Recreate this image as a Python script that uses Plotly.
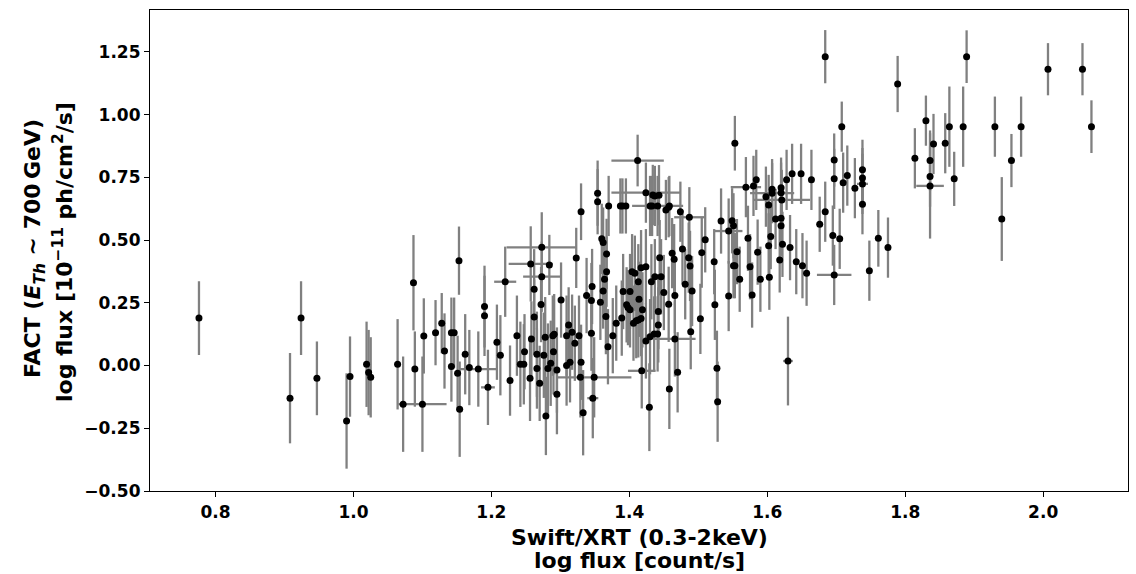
import plotly.graph_objects as go

# Swift/XRT log flux (x) and FACT log flux (y)
x_xrt = [
    0.776, 0.908, 0.924, 0.947, 0.990, 0.995, 1.019, 1.022, 1.025, 1.064,
    1.072, 1.087, 1.089, 1.100, 1.102, 1.119, 1.128, 1.132, 1.142, 1.146,
    1.142, 1.151, 1.153, 1.154, 1.162, 1.168, 1.181,
    1.190, 1.190, 1.195, 1.208, 1.213, 1.220, 1.227, 1.237, 1.242, 1.247,
    1.248, 1.256, 1.257, 1.258, 1.262, 1.262, 1.266, 1.266, 1.270, 1.272,
    1.273, 1.273, 1.276, 1.278, 1.279, 1.282, 1.284, 1.286, 1.289, 1.291,
    1.290, 1.295, 1.295, 1.301, 1.309, 1.309, 1.312, 1.314, 1.317, 1.321,
    1.323, 1.327, 1.329, 1.330, 1.330, 1.333, 1.338, 1.345, 1.345, 1.346,
    1.347, 1.349, 1.354, 1.354, 1.358, 1.360, 1.362, 1.362, 1.364, 1.366,
    1.367, 1.367, 1.369, 1.370, 1.376, 1.381, 1.387, 1.390, 1.395, 1.389,
    1.391, 1.396, 1.398, 1.401, 1.401, 1.404, 1.408, 1.406, 1.410, 1.413,
    1.417, 1.412, 1.413, 1.414, 1.417, 1.419, 1.424, 1.424, 1.424, 1.429,
    1.430, 1.433, 1.430, 1.432, 1.434, 1.436, 1.441, 1.437, 1.441, 1.442,
    1.442, 1.443, 1.444, 1.446, 1.450, 1.453, 1.457, 1.458, 1.457, 1.458,
    1.462, 1.465, 1.466, 1.466, 1.470, 1.474, 1.477, 1.481, 1.486, 1.487,
    1.488, 1.489, 1.491, 1.503, 1.505, 1.510, 1.523, 1.524, 1.527, 1.528,
    1.418, 1.437,
    1.533, 1.544, 1.544, 1.549, 1.551, 1.551, 1.553, 1.553, 1.556, 1.560,
    1.569, 1.572, 1.575, 1.578, 1.580, 1.584, 1.586, 1.590, 1.598, 1.602,
    1.602, 1.603, 1.605, 1.607, 1.607, 1.612, 1.618, 1.620, 1.620, 1.621,
    1.620, 1.620, 1.622, 1.628, 1.630, 1.633, 1.636, 1.642, 1.649, 1.651,
    1.657, 1.664, 1.676, 1.684, 1.684, 1.695, 1.697, 1.697, 1.697, 1.705,
    1.708, 1.710, 1.716, 1.727, 1.738, 1.738, 1.738, 1.738, 1.748, 1.761,
    1.775, 1.789, 1.814, 1.830, 1.836, 1.836, 1.836, 1.841, 1.858, 1.864,
    1.871, 1.884, 1.889, 1.930, 1.940, 1.954, 1.968, 2.007, 2.057, 2.070,
]

y_fact = [
    0.189, -0.130, 0.189, -0.051, -0.221, -0.044, 0.005, -0.028, -0.047, 0.005,
    -0.154, 0.330, -0.014, -0.154, 0.118, 0.131, 0.169, 0.058, 0.131, 0.131,
    -0.004, -0.031, 0.418, -0.174, 0.045, -0.008, -0.014,
    0.235, 0.198, -0.087, 0.093, 0.041, 0.334, -0.060, 0.119, 0.005, 0.005,
    0.055, -0.051, 0.405, 0.106, 0.304, 0.193, 0.045, -0.012, -0.071, 0.243,
    0.471, 0.354, 0.041, 0.113, -0.201, -0.012, 0.401, 0.009, 0.119, 0.125,
    0.055, -0.114, -0.018, 0.261, 0.119, 0.000, 0.162, 0.013, 0.133, 0.089,
    0.429, 0.119, -0.047, 0.013, 0.613, -0.188, 0.279, 0.129, 0.259, 0.315,
    -0.130, -0.047, 0.687, 0.653, 0.252, 0.505, 0.490, 0.297, 0.344, 0.195,
    0.445, 0.374, 0.075, 0.636, 0.119, 0.169, 0.636, 0.636, 0.636, 0.189,
    0.295, 0.242, 0.231, 0.222, 0.295, 0.374, 0.368, 0.169, 0.179, 0.182,
    0.187, 0.817, 0.334, 0.264, 0.390, 0.222, 0.689, 0.394, 0.098, -0.166,
    0.636, 0.636, 0.115, 0.334, 0.680, 0.126, 0.126, 0.354, 0.636, 0.215,
    0.162, 0.679, 0.430, 0.354, 0.291, 0.620, 0.631, 0.636, 0.244, -0.093,
    0.448, 0.424, 0.279, 0.106, -0.027, 0.613, 0.464, 0.324, 0.430, 0.591,
    0.397, 0.135, 0.297, 0.186, 0.450, 0.501, 0.414, 0.242, -0.011, -0.144,
    -0.021, 0.676,
    0.576, 0.536, 0.277, 0.577, 0.557, 0.398, 0.398, 0.886, 0.454, 0.344,
    0.711, 0.507, 0.394, 0.281, 0.716, 0.740, 0.452, 0.344, 0.673, 0.640,
    0.477, 0.352, 0.514, 0.703, 0.687, 0.584, 0.421, 0.709, 0.689, 0.660,
    0.587, 0.557, 0.483, 0.740, 0.018, 0.470, 0.764, 0.414, 0.764, 0.398,
    0.368, 0.740, 0.563, 1.231, 0.613, 0.518, 0.819, 0.744, 0.361, 0.505,
    0.952, 0.729, 0.757, 0.707, 0.780, 0.747, 0.724, 0.643, 0.378, 0.507,
    0.470, 1.122, 0.826, 0.976, 0.817, 0.753, 0.716, 0.883, 0.886, 0.952,
    0.744, 0.952, 1.231, 0.952, 0.584, 0.817, 0.952, 1.181, 1.181, 0.952,
]

y_err = [
    0.147, 0.180, 0.147, 0.147, 0.190, 0.160, 0.170, 0.170, 0.160, 0.180,
    0.190, 0.190, 0.150, 0.190, 0.150, 0.130, 0.120, 0.150, 0.140, 0.140,
    0.140, 0.150, 0.136, 0.190, 0.160, 0.150, 0.150,
    0.163, 0.160, 0.150, 0.150, 0.160, 0.140, 0.140, 0.160, 0.170, 0.160,
    0.150, 0.170, 0.150, 0.150, 0.160, 0.150, 0.170, 0.160, 0.150, 0.150,
    0.140, 0.140, 0.170, 0.160, 0.156, 0.180, 0.120, 0.170, 0.160, 0.160,
    0.170, 0.160, 0.170, 0.150, 0.160, 0.160, 0.150, 0.160, 0.150, 0.150,
    0.120, 0.160, 0.160, 0.150, 0.113, 0.170, 0.150, 0.150, 0.150, 0.150,
    0.160, 0.160, 0.130, 0.130, 0.150, 0.140, 0.140, 0.150, 0.150, 0.150,
    0.140, 0.140, 0.150, 0.120, 0.150, 0.150, 0.110, 0.110, 0.110, 0.150,
    0.150, 0.150, 0.150, 0.150, 0.150, 0.150, 0.150, 0.150, 0.150, 0.150,
    0.150, 0.103, 0.150, 0.150, 0.150, 0.150, 0.120, 0.150, 0.150, 0.175,
    0.120, 0.120, 0.150, 0.150, 0.120, 0.150, 0.150, 0.150, 0.120, 0.150,
    0.150, 0.120, 0.150, 0.150, 0.150, 0.120, 0.120, 0.120, 0.150, 0.160,
    0.140, 0.140, 0.150, 0.150, 0.160, 0.120, 0.140, 0.140, 0.140, 0.120,
    0.140, 0.150, 0.140, 0.140, 0.140, 0.130, 0.130, 0.140, 0.150, 0.160,
    0.150, 0.120,
    0.130, 0.130, 0.140, 0.130, 0.130, 0.130, 0.130, 0.109, 0.130, 0.130,
    0.120, 0.130, 0.130, 0.130, 0.120, 0.120, 0.130, 0.130, 0.120, 0.120,
    0.130, 0.130, 0.130, 0.120, 0.120, 0.120, 0.130, 0.120, 0.120, 0.120,
    0.120, 0.120, 0.130, 0.120, 0.177, 0.130, 0.120, 0.130, 0.120, 0.130,
    0.130, 0.120, 0.110, 0.106, 0.120, 0.120, 0.106, 0.120, 0.120, 0.120,
    0.100, 0.120, 0.120, 0.120, 0.120, 0.120, 0.120, 0.120, 0.120, 0.113,
    0.120, 0.112, 0.120, 0.100, 0.120, 0.120, 0.210, 0.120, 0.120, 0.160,
    0.108, 0.160, 0.105, 0.120, 0.167, 0.106, 0.120, 0.104, 0.104, 0.105,
]

x_err = [
    0.004, 0.004, 0.004, 0.004, 0.004, 0.004, 0.004, 0.004, 0.004, 0.004,
    0.005, 0.004, 0.004, 0.035, 0.004, 0.004, 0.004, 0.004, 0.004, 0.004,
    0.004, 0.004, 0.004, 0.004, 0.004, 0.004, 0.028,
    0.004, 0.004, 0.010, 0.004, 0.004, 0.016, 0.004, 0.004, 0.004, 0.004,
    0.004, 0.004, 0.032, 0.004, 0.004, 0.004, 0.004, 0.004, 0.004, 0.004,
    0.051, 0.027, 0.004, 0.004, 0.004, 0.004, 0.004, 0.004, 0.004, 0.004,
    0.004, 0.004, 0.004, 0.004, 0.004, 0.004, 0.004, 0.004, 0.004, 0.004,
    0.004, 0.004, 0.004, 0.004, 0.004, 0.004, 0.004, 0.004, 0.004, 0.004,
    0.008, 0.054, 0.004, 0.004, 0.004, 0.004, 0.004, 0.004, 0.004, 0.004,
    0.004, 0.004, 0.004, 0.004, 0.004, 0.004, 0.004, 0.004, 0.004, 0.004,
    0.004, 0.004, 0.004, 0.004, 0.004, 0.004, 0.004, 0.004, 0.004, 0.004,
    0.004, 0.038, 0.004, 0.004, 0.004, 0.004, 0.050, 0.004, 0.004, 0.004,
    0.004, 0.004, 0.004, 0.004, 0.004, 0.004, 0.004, 0.004, 0.037, 0.004,
    0.004, 0.004, 0.004, 0.004, 0.004, 0.004, 0.004, 0.004, 0.004, 0.004,
    0.004, 0.004, 0.004, 0.030, 0.004, 0.004, 0.004, 0.004, 0.004, 0.022,
    0.004, 0.004, 0.004, 0.004, 0.004, 0.004, 0.004, 0.004, 0.004, 0.004,
    0.020, 0.004,
    0.004, 0.020, 0.004, 0.004, 0.004, 0.004, 0.004, 0.004, 0.004, 0.004,
    0.022, 0.004, 0.004, 0.004, 0.004, 0.004, 0.004, 0.004, 0.004, 0.004,
    0.004, 0.004, 0.004, 0.004, 0.032, 0.004, 0.004, 0.004, 0.004, 0.041,
    0.004, 0.004, 0.004, 0.004, 0.007, 0.004, 0.004, 0.004, 0.004, 0.004,
    0.004, 0.004, 0.004, 0.004, 0.004, 0.004, 0.004, 0.004, 0.025, 0.004,
    0.004, 0.004, 0.004, 0.004, 0.004, 0.004, 0.008, 0.004, 0.004, 0.004,
    0.004, 0.004, 0.004, 0.004, 0.004, 0.004, 0.020, 0.004, 0.004, 0.004,
    0.004, 0.004, 0.004, 0.004, 0.004, 0.004, 0.004, 0.004, 0.004, 0.004,
]

assert len(x_xrt) == len(y_fact) == len(y_err) == len(x_err)

x_ticks = [0.8, 1.0, 1.2, 1.4, 1.6, 1.8, 2.0]
x_ticklabels = ["0.8", "1.0", "1.2", "1.4", "1.6", "1.8", "2.0"]
y_ticks = [-0.5, -0.25, 0.0, 0.25, 0.5, 0.75, 1.0, 1.25]
y_ticklabels = ["\u22120.50", "\u22120.25", "0.00", "0.25", "0.50", "0.75", "1.00", "1.25"]

FONT = "DejaVu Sans"
ERR_COLOR = "rgb(128,128,128)"

fig = go.Figure()
fig.add_trace(go.Scatter(
    x=x_xrt, y=y_fact, mode="markers",
    marker=dict(color="black", size=7),
    error_y=dict(type="data", array=y_err, visible=True, color=ERR_COLOR, thickness=2.3, width=0),
    error_x=dict(type="data", array=x_err, visible=True, color=ERR_COLOR, thickness=2.3, width=0),
    showlegend=False,
))

W, H = 1136, 574
L, R, T, B = 150, 8, 10, 83
pw, ph = W - L - R, H - T - B

def px_to_paper_x(px):
    return (px - L) / pw

def px_to_paper_y(py):
    return (H - B - py) / ph

axis_common = dict(
    showgrid=False, zeroline=False, showline=True, linecolor="black", linewidth=1.2,
    mirror=True, ticks="outside", ticklen=5, tickwidth=1.2, tickcolor="black",
    tickfont=dict(family=FONT, size=17, color="black", weight="bold"),
)

fig.update_layout(
    width=W, height=H,
    margin=dict(l=L, r=R, t=T, b=B, pad=0),
    plot_bgcolor="white", paper_bgcolor="white",
    xaxis=dict(range=[0.705, 2.123], tickmode="array", tickvals=x_ticks, ticktext=x_ticklabels, **axis_common),
    yaxis=dict(range=[-0.5, 1.417], tickmode="array", tickvals=y_ticks, ticktext=y_ticklabels, **axis_common),
    annotations=[
        dict(text="<b>Swift/XRT (0.3-2keV)</b>", xref="paper", yref="paper",
             x=0.5, y=px_to_paper_y(537), xanchor="center", yanchor="middle",
             showarrow=False, font=dict(family=FONT, size=22, color="black")),
        dict(text="<b>log flux [count/s]</b>", xref="paper", yref="paper",
             x=0.5, y=px_to_paper_y(560), xanchor="center", yanchor="middle",
             showarrow=False, font=dict(family=FONT, size=22, color="black")),
        dict(text="<b>FACT (<i>E</i><sub><i>Th</i></sub> ~ 700\u2009GeV)</b>", xref="paper", yref="paper",
             x=px_to_paper_x(34), y=px_to_paper_y(249), xanchor="center", yanchor="middle",
             textangle=-90, showarrow=False, font=dict(family=FONT, size=22, color="black")),
        dict(text="<b>log flux [10<sup>\u221211</sup> ph/cm<sup>2</sup>/s]</b>", xref="paper", yref="paper",
             x=px_to_paper_x(63), y=px_to_paper_y(252), xanchor="center", yanchor="middle",
             textangle=-90, showarrow=False, font=dict(family=FONT, size=22, color="black")),
    ],
)

fig.write_html("out.html")
